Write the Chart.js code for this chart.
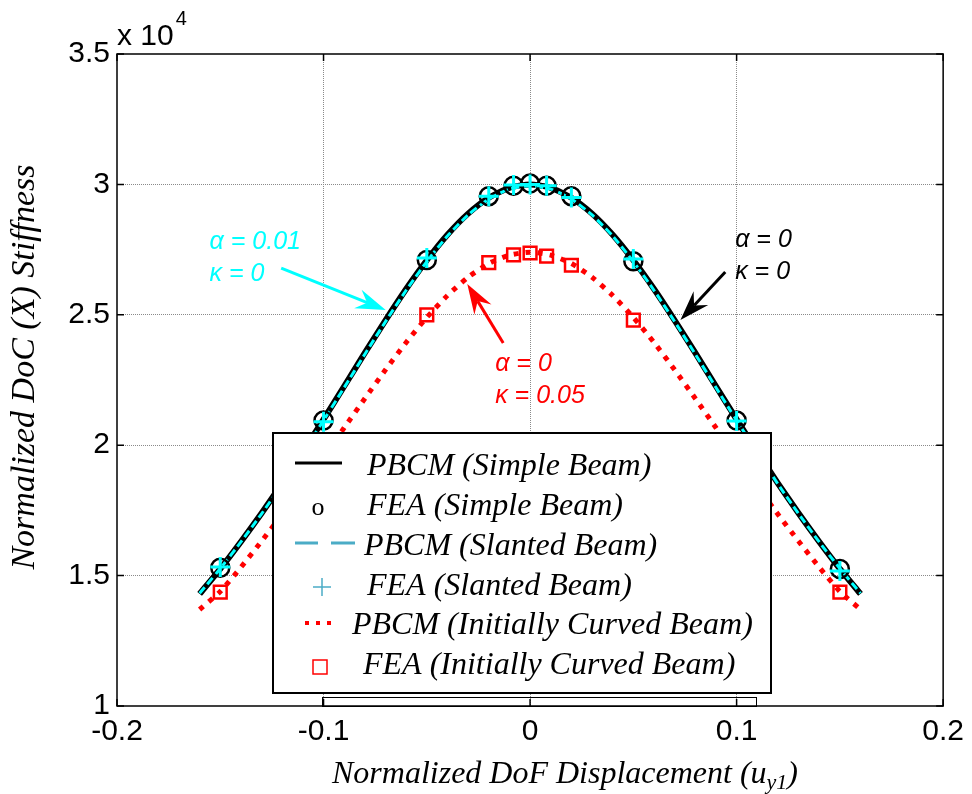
<!DOCTYPE html>
<html>
<head>
<meta charset="utf-8">
<script src="https://cdn.jsdelivr.net/npm/chart.js@4.4.1/dist/chart.umd.min.js"></script>
<style>
  html, body { margin: 0; padding: 0; background: #fff; }
</style>
</head>
<body>
<canvas id="stiffness-chart" width="972" height="794"></canvas>
<script>
// stiffness values are read in units of 10^4
const curveX = [-0.16, -0.15, -0.14, -0.13, -0.12, -0.11, -0.10, -0.09, -0.08, -0.07, -0.06, -0.05, -0.04, -0.03, -0.02, -0.01, 0,
                0.01, 0.02, 0.03, 0.04, 0.05, 0.06, 0.07, 0.08, 0.09, 0.10, 0.11, 0.12, 0.13, 0.14, 0.15, 0.16];
const pbcmSimple = [1.430, 1.526, 1.630, 1.739, 1.854, 1.975, 2.099, 2.226, 2.354, 2.479, 2.599, 2.709, 2.807, 2.888, 2.949, 2.987, 3.000,
                    2.987, 2.949, 2.888, 2.807, 2.709, 2.599, 2.479, 2.354, 2.226, 2.099, 1.975, 1.854, 1.739, 1.630, 1.526, 1.430];
const pbcmSlanted = [1.432, 1.527, 1.629, 1.737, 1.851, 1.972, 2.095, 2.221, 2.349, 2.474, 2.594, 2.704, 2.802, 2.883, 2.944, 2.982, 2.995,
                     2.982, 2.944, 2.883, 2.802, 2.704, 2.594, 2.474, 2.349, 2.221, 2.095, 1.972, 1.851, 1.737, 1.629, 1.527, 1.432];
const pbcmCurved = [1.370, 1.439, 1.532, 1.632, 1.735, 1.843, 1.954, 2.067, 2.179, 2.289, 2.394, 2.490, 2.574, 2.644, 2.697, 2.729, 2.740,
                    2.729, 2.697, 2.644, 2.574, 2.490, 2.394, 2.289, 2.179, 2.067, 1.954, 1.843, 1.735, 1.632, 1.532, 1.439, 1.370];

const feaX = [-0.15, -0.1, -0.05, -0.02, -0.008, 0, 0.008, 0.02, 0.05, 0.1, 0.15];
const feaSimple = [1.530, 2.095, 2.710, 2.955, 2.995, 3.003, 2.995, 2.955, 2.705, 2.095, 1.525];
const feaSlanted = [1.533, 2.090, 2.718, 2.955, 2.998, 3.000, 2.995, 2.950, 2.714, 2.093, 1.518];
const feaCurved = [1.437, 1.950, 2.500, 2.700, 2.730, 2.737, 2.725, 2.690, 2.480, 1.950, 1.437];

const xTicks = [-0.2, -0.1, 0, 0.1, 0.2];
const yTicks = [1, 1.5, 2, 2.5, 3, 3.5];

const serif = '"Liberation Serif", "Times New Roman", serif';
const sans = '"Liberation Sans", Arial, sans-serif';

const pts = (xs, ys) => xs.map((x, i) => ({ x: x, y: ys[i] }));

// text + arrow notes, placed in data coordinates
const notes = [
    { lines: ['α = 0.01', 'κ = 0'], at: [-0.1552, 2.752], color: '#00FFFF', from: [-0.1205, 2.679], to: [-0.0699, 2.518] },
    { lines: ['α = 0', 'κ = 0'], at: [0.0993, 2.760], color: '#000000', from: [0.0945, 2.664], to: [0.0728, 2.480] },
    { lines: ['α = 0', 'κ = 0.05'], at: [-0.0169, 2.284], color: '#FF0000', from: [-0.0130, 2.392], to: [-0.0304, 2.618] },
];

const gridColor = (ctx) => {
    const v = ctx.tick ? ctx.tick.value : null;
    if (v === ctx.scale.min || v === ctx.scale.max) return 'rgba(0,0,0,0)';
    return '#8a8a8a';
};

function drawArrow(ctx, x1, y1, x2, y2, color) {
    const ang = Math.atan2(y2 - y1, x2 - x1);
    const len = 30, half = 10, notch = 20;
    ctx.save();
    ctx.strokeStyle = color;
    ctx.fillStyle = color;
    ctx.lineWidth = 3;
    ctx.beginPath();
    ctx.moveTo(x1, y1);
    ctx.lineTo(x2 - notch * Math.cos(ang), y2 - notch * Math.sin(ang));
    ctx.stroke();
    ctx.translate(x2, y2);
    ctx.rotate(ang);
    ctx.beginPath();
    ctx.moveTo(0, 0);
    ctx.lineTo(-len, -half);
    ctx.lineTo(-notch, 0);
    ctx.lineTo(-len, half);
    ctx.closePath();
    ctx.fill();
    ctx.restore();
}

const notesPlugin = {
    id: 'notes',
    afterDatasetsDraw(chart) {
        const ctx = chart.ctx, xs = chart.scales.x, ys = chart.scales.y;
        notes.forEach(n => {
            ctx.save();
            ctx.fillStyle = n.color;
            ctx.font = 'italic 25px ' + sans;
            ctx.textBaseline = 'alphabetic';
            const tx = xs.getPixelForValue(n.at[0]);
            const ty = ys.getPixelForValue(n.at[1]);
            n.lines.forEach((t, i) => ctx.fillText(t, tx, ty + i * 32));
            ctx.restore();
            drawArrow(ctx, xs.getPixelForValue(n.from[0]), ys.getPixelForValue(n.from[1]),
                xs.getPixelForValue(n.to[0]), ys.getPixelForValue(n.to[1]), n.color);
        });
    }
};

const legendPlugin = {
    id: 'boxLegend',
    afterDatasetsDraw(chart) {
        const ctx = chart.ctx;
        const box = { left: 273, top: 433, right: 771, bottom: 693 };
        const rows = [475, 515, 555, 595, 634, 674];
        const textX = [367, 367, 364, 367, 352, 363];
        const legendCyan = 'rgb(75,172,198)';
        ctx.save();
        // faint second frame MATLAB leaves under the legend
        ctx.strokeStyle = '#000';
        ctx.lineWidth = 1;
        ctx.strokeRect(322.5, 697.5, 434, 9);
        ctx.fillStyle = '#fff';
        ctx.fillRect(box.left, box.top, box.right - box.left, box.bottom - box.top);
        ctx.lineWidth = 2;
        ctx.strokeRect(box.left, box.top, box.right - box.left, box.bottom - box.top);

        // symbols
        ctx.lineWidth = 3;
        ctx.strokeStyle = '#000';
        ctx.beginPath(); ctx.moveTo(295, rows[0] - 12); ctx.lineTo(342, rows[0] - 12); ctx.stroke();

        ctx.fillStyle = '#000';
        ctx.font = '26px ' + serif;
        ctx.textAlign = 'center';
        ctx.fillText('o', 318, rows[1]);

        ctx.strokeStyle = legendCyan;
        ctx.beginPath();
        ctx.moveTo(295, rows[2] - 12); ctx.lineTo(318, rows[2] - 12);
        ctx.moveTo(331, rows[2] - 12); ctx.lineTo(355, rows[2] - 12);
        ctx.stroke();

        ctx.lineWidth = 1.5;
        ctx.beginPath();
        ctx.moveTo(313, rows[3] - 8); ctx.lineTo(331, rows[3] - 8);
        ctx.moveTo(322, rows[3] - 17); ctx.lineTo(322, rows[3] + 1);
        ctx.stroke();

        ctx.fillStyle = '#FF0000';
        [307, 318, 329].forEach(x => ctx.fillRect(x - 2, rows[4] - 13, 4, 4));

        ctx.strokeStyle = '#FF0000';
        ctx.lineWidth = 1.5;
        ctx.strokeRect(313, rows[5] - 14, 14, 14);

        // labels
        ctx.fillStyle = '#000';
        ctx.textAlign = 'left';
        ctx.font = 'italic 32px ' + serif;
        chart.data.datasets.forEach((ds, i) => ctx.fillText(ds.label, textX[i], rows[i]));
        ctx.restore();
    }
};

const framePlugin = {
    id: 'frame',
    afterDraw(chart) {
        const ctx = chart.ctx, a = chart.chartArea, xs = chart.scales.x, ys = chart.scales.y;
        const tick = 7;
        ctx.save();
        ctx.strokeStyle = '#000';
        ctx.lineWidth = 1.5;
        ctx.strokeRect(a.left, a.top, a.right - a.left, a.bottom - a.top);
        ctx.beginPath();
        xTicks.forEach(v => {
            const px = xs.getPixelForValue(v);
            ctx.moveTo(px, a.bottom); ctx.lineTo(px, a.bottom - tick);
            ctx.moveTo(px, a.top); ctx.lineTo(px, a.top + tick);
        });
        yTicks.forEach(v => {
            const py = ys.getPixelForValue(v);
            ctx.moveTo(a.left, py); ctx.lineTo(a.left + tick, py);
            ctx.moveTo(a.right, py); ctx.lineTo(a.right - tick, py);
        });
        ctx.stroke();

        // exponent label
        ctx.fillStyle = '#000';
        ctx.font = '30px ' + sans;
        ctx.fillText('x 10', a.left, 45);
        const w = ctx.measureText('x 10').width;
        ctx.font = '20px ' + sans;
        ctx.fillText('4', a.left + w + 2, 25);

        // x title with subscript
        ctx.font = 'italic 32px ' + serif;
        const main = 'Normalized DoF Displacement (u';
        const mw = ctx.measureText(main).width;
        ctx.font = 'italic 22px ' + serif;
        const sw = ctx.measureText('y1').width;
        ctx.font = 'italic 32px ' + serif;
        const cw = ctx.measureText(')').width;
        let x0 = 565 - (mw + sw + cw) / 2;
        const base = 783;
        ctx.fillText(main, x0, base);
        ctx.font = 'italic 22px ' + serif;
        ctx.fillText('y1', x0 + mw, base + 6);
        ctx.font = 'italic 32px ' + serif;
        ctx.fillText(')', x0 + mw + sw, base);

        // y title
        ctx.translate(25, 367);
        ctx.rotate(-Math.PI / 2);
        ctx.textAlign = 'center';
        ctx.textBaseline = 'middle';
        ctx.font = 'italic 34px ' + serif;
        ctx.fillText('Normalized DoC (X) Stiffness', 0, 0);
        ctx.restore();
    }
};

const stiffnessChart = new Chart(document.getElementById('stiffness-chart').getContext('2d'), {
    type: 'scatter',
    data: {
        datasets: [{
            label: 'PBCM (Simple Beam)',
            data: pts(curveX, pbcmSimple),
            showLine: true,
            borderColor: '#000000',
            borderWidth: 6,
            pointRadius: 0,
            tension: 0.2,
            order: 4,
        }, {
            label: 'FEA (Simple Beam)',
            data: pts(feaX, feaSimple),
            pointStyle: 'circle',
            pointRadius: 9,
            pointBorderWidth: 2.5,
            pointBorderColor: '#000000',
            pointBackgroundColor: 'rgba(0,0,0,0)',
            order: 2,
        }, {
            label: 'PBCM (Slanted Beam)',
            data: pts(curveX, pbcmSlanted),
            showLine: true,
            borderColor: '#00FFFF',
            borderWidth: 3,
            borderDash: [8, 4],
            pointRadius: 0,
            tension: 0.2,
            order: 3,
        }, {
            label: 'FEA (Slanted Beam)',
            data: pts(feaX, feaSlanted),
            pointStyle: 'cross',
            pointRadius: 10,
            pointBorderWidth: 3,
            pointBorderColor: '#00FFFF',
            order: 1,
        }, {
            label: 'PBCM (Initially Curved Beam)',
            data: pts(curveX, pbcmCurved),
            showLine: true,
            borderColor: '#FF0000',
            borderWidth: 5,
            borderDash: [5, 7],
            borderCapStyle: 'butt',
            pointRadius: 0,
            tension: 0.2,
            order: 6,
        }, {
            label: 'FEA (Initially Curved Beam)',
            data: pts(feaX, feaCurved),
            pointStyle: 'rect',
            pointRadius: 9,
            pointBorderWidth: 2.5,
            pointBorderColor: '#FF0000',
            pointBackgroundColor: 'rgba(0,0,0,0)',
            order: 5,
        }],
    },
    options: {
        responsive: false,
        animation: false,
        devicePixelRatio: 1,
        layout: { padding: { top: 54, right: 25, bottom: 0, left: 0 } },
        plugins: {
            legend: { display: false },
            tooltip: { enabled: false },
        },
        scales: {
            x: {
                type: 'linear',
                min: -0.2,
                max: 0.2,
                afterBuildTicks: s => { s.ticks = xTicks.map(v => ({ value: v })); },
                afterFit: s => { s.height = 88; },
                ticks: {
                    callback: v => String(v),
                    font: { family: sans, size: 30 },
                    color: '#000',
                    padding: 8,
                    maxRotation: 0,
                    autoSkip: false,
                },
                grid: { color: gridColor, drawTicks: false, lineWidth: 1 },
                border: { display: false, dash: [1, 1] },
            },
            y: {
                type: 'linear',
                min: 1,
                max: 3.5,
                afterBuildTicks: s => { s.ticks = yTicks.map(v => ({ value: v })); },
                afterFit: s => { s.width = 117; },
                ticks: {
                    callback: v => String(v),
                    font: { family: sans, size: 30 },
                    color: '#000',
                    padding: 7,
                    autoSkip: false,
                },
                grid: { color: gridColor, drawTicks: false, lineWidth: 1 },
                border: { display: false, dash: [1, 1] },
            },
        },
    },
    plugins: [notesPlugin, legendPlugin, framePlugin],
});
</script>
</body>
</html>
